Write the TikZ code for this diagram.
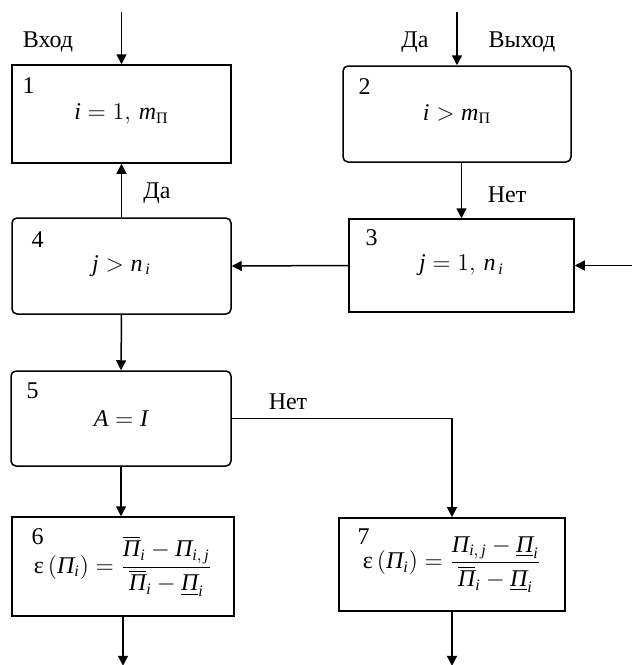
\documentclass[tikz,border=0pt]{standalone}
\usepackage{amsmath}
\usepackage{fontspec}
\setmainfont{Liberation Serif}
\usetikzlibrary{arrows.meta, positioning}

% letters of the formulas in Times-like italic
\newcommand{\mv}[1]{\textit{#1}}

\begin{document}
\begin{tikzpicture}[x=0.5pt, y=-0.5pt, font=\fontsize{12}{14}\selectfont,
    blok/.style={draw, line width=0.75pt, inner sep=0pt},
    rblok/.style={blok, rounded corners=2.5pt},
    num/.style={anchor=west, inner sep=0pt},
    arr/.style={line width=0.75pt, -{Triangle[length=5pt,width=5pt]}},
    lnk/.style={line width=0.75pt}]

    \useasboundingbox (0,0) rectangle (632,665);

    % ==========================================
    % Blocks
    % ==========================================
    \node[blok, minimum width=109.5pt, minimum height=49pt] (b1) at (121.5,114)
        {$\mv{i}=1,\,\mv{m}_{\text{П}}$};

    \node[rblok, minimum width=114pt, minimum height=48pt] (b2) at (457,114)
        {$\mv{i}>\mv{m}_{\text{П}}$};

    \node[blok, minimum width=112.5pt, minimum height=46.5pt] (b3) at (461.5,265.5)
        {$\mv{j}=1,\,\mv{n}_{\,\mv{i}}$};

    \node[rblok, minimum width=109.5pt, minimum height=48pt] (b4) at (121.5,266)
        {$\mv{j}>\mv{n}_{\,\mv{i}}$};

    \node[rblok, minimum width=110pt, minimum height=47.5pt] (b5) at (121,418.5)
        {$\mv{A}=\mv{I}$};

    \node[blok, minimum width=111pt, minimum height=49.5pt] (b6) at (123,566.5)
        {$\text{ε}\,(\mv{Π}_{\mv{i}})=\dfrac{\overline{\mv{Π}}_{\mv{i}}-\mv{Π}_{\mv{i},\,\mv{j}}}{\overline{\mv{Π}}_{\mv{i}}-\underline{\mv{Π}}_{\mv{i}}}$};

    \node[blok, line width=0.9pt, minimum width=113pt, minimum height=46.5pt] (b7) at (452,564.5)
        {$\text{ε}\,(\mv{Π}_{\mv{i}})=\dfrac{\mv{Π}_{\mv{i},\,\mv{j}}-\underline{\mv{Π}}_{\mv{i}}}{\overline{\mv{Π}}_{\mv{i}}-\underline{\mv{Π}}_{\mv{i}}}$};

    % block numbers
    \node[num] (n1) at ([shift={(11,21)}]b1.north west) {1};
    \node[num] (n2) at ([shift={(16,21)}]b2.north west) {2};
    \node[num] (n3) at ([shift={(17,19)}]b3.north west) {3};
    \node[num] (n4) at ([shift={(20,22)}]b4.north west) {4};
    \node[num] (n5) at ([shift={(16,21)}]b5.north west) {5};
    \node[num] (n6) at ([shift={(20,20)}]b6.north west) {6};
    \node[num] (n7) at ([shift={(19,20)}]b7.north west) {7};

    % ==========================================
    % Connectors
    % ==========================================
    \coordinate (in1) at (121.5,12);
    \coordinate (in2) at (457,12);
    \coordinate (in3) at (632,265.5);

    \draw[arr] (in1) -- (b1.north);
    \draw[arr] (in2) -- (b2.north);
    \draw[arr] (b2.south -| b3.north) -- (b3.north);
    \draw[arr] (in3) -- (b3.east);
    \draw[arr] (b3.west) -- (b4.east);
    \draw[arr] (b4.north) -- (b1.south);
    \draw[arr] (b4.south) -- (b5.north);
    \draw[arr] (b5.south) -- (b5.south |- b6.north);
    \draw[arr] (b5.east) -| (b7.north);
    \draw[arr] (b6.south) -- ++(0,49);
    \draw[arr] (b7.south) -- ++(0,54);

    % labels
    \node (lin)  at (48,42)   {Вход};
    \node (lyes) at (415,42)  {Да};
    \node (lout) at (522,42)  {Выход};
    \node (lyes4) at (157,193) {Да};
    \node (lno2) at (507,195) {Нет};
    \node (lno5) at (288,402) {Нет};

\end{tikzpicture}
\end{document}
